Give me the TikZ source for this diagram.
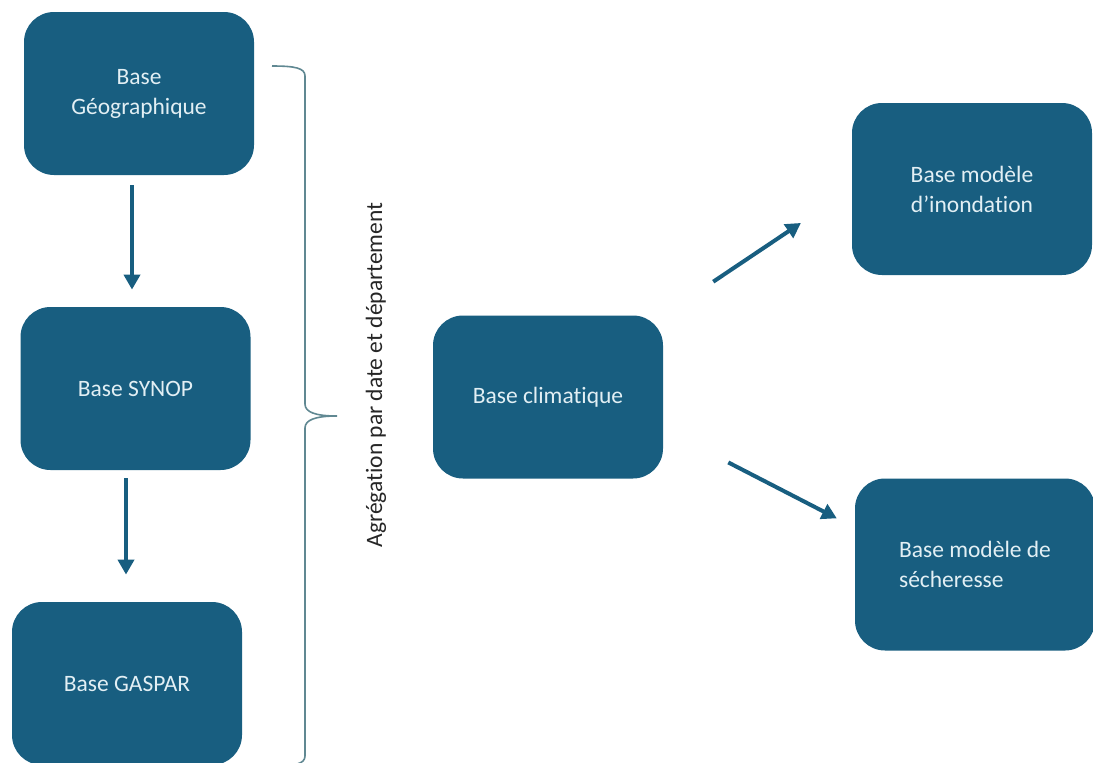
\documentclass[tikz,border=0pt]{standalone}
\usepackage{fontspec}
\setmainfont{Carlito}[Ligatures=NoCommon]
\usetikzlibrary{arrows.meta,positioning}
\definecolor{boxblue}{RGB}{24,94,128}
\definecolor{boxtext}{RGB}{226,239,244}
\definecolor{bracegray}{RGB}{96,136,146}

\begin{document}
\begin{tikzpicture}[x=0.5pt,y=-0.5pt,
base/.style={rectangle,rounded corners=15pt,fill=boxblue,text=boxtext,
minimum width=115pt,minimum height=81.5pt,inner sep=0pt,
font=\fontsize{11.75}{15}\selectfont},
big/.style={base,minimum width=120pt,minimum height=86pt},
arr/.style={boxblue,line width=2pt,-{Triangle[width=8pt,length=7.5pt]}}]
\useasboundingbox (0,0) rectangle (1093,762);
\node[base,align=center] (geo) at (139,93.5) {Base\\Géographique};
\node[base] (synop) at (135.5,388.5) {Base SYNOP};
\node[base] (gaspar) at (127,683.5) {Base GASPAR};
\node[base] (clim) at (548,397) {Base climatique};
\node[big,align=center] (inond) at (972,189) {Base modèle\\d’inondation};
\node[big,align=left] (sech) at (975,564.5) {Base modèle de\\sécheresse};
\draw[arr,shorten <=5pt,shorten >=8.5pt] ([shift={(-7,0)}]geo.south) -- ([shift={(-3.5,0)}]synop.north);
\draw[arr,shorten <=4pt,shorten >=13.5pt] ([shift={(-9.5,0)}]synop.south) -- ([shift={(-1,0)}]gaspar.north);
\draw[arr,shorten <=30pt,shorten >=30.5pt] (clim.north east) -- (inond.west);
\draw[arr,shorten <=36.5pt,shorten >=10pt] ([shift={(0,32)}]clim.east) -- ([shift={(0,-37)}]sech.west);
\coordinate (bracetop) at (272,66);
\coordinate (bracetip) at (337,416);
\coordinate (bracebot) at (272,766);
\draw[bracegray,line width=0.8pt] (bracetop) .. controls (295,66) and (305,68) .. (305,76)
-- (305,404) .. controls (305,412) and (315,416) .. (bracetip)
.. controls (315,416) and (305,420) .. (305,428)
-- (305,756) .. controls (305,764) and (295,766) .. (bracebot);
\node[rotate=90,text={black!85},font=\fontsize{11.75}{15}\selectfont] (agreg) at (376,375) {Agrégation par date et département};
\end{tikzpicture}
\end{document}
